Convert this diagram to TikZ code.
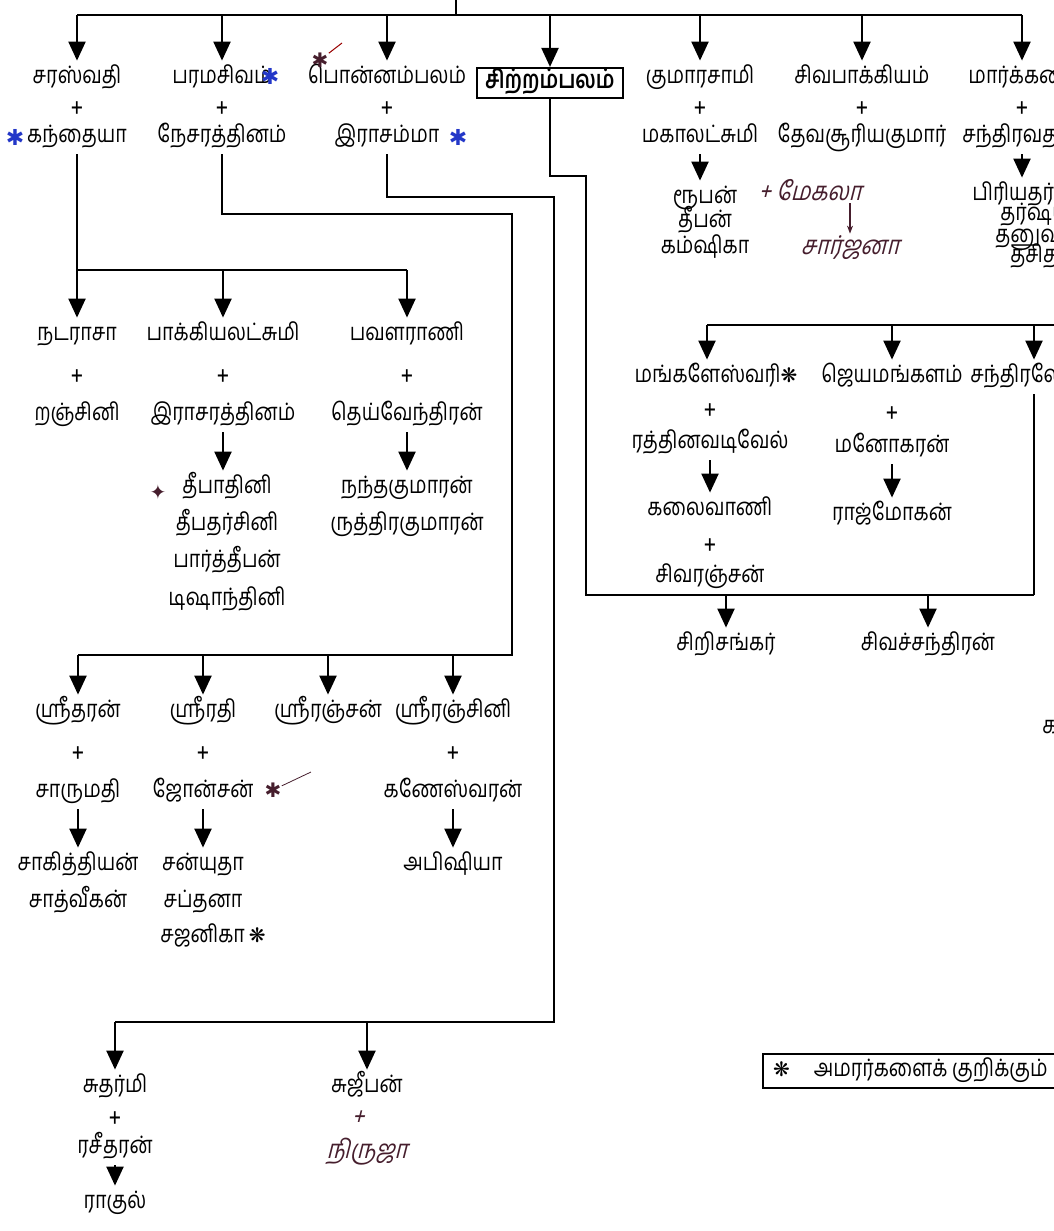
\documentclass[tikz,border=0pt]{standalone}
\usepackage{fontspec}
\setmainfont[Script=Tamil,FakeStretch=0.82]{Hind Madurai}
\newfontfamily\symfont{DejaVu Sans}
\newfontfamily\handfont[Script=Tamil,FakeSlant=0.25,FakeStretch=0.85]{Hind Madurai}
\usetikzlibrary{arrows.meta}
\definecolor{inkblue}{RGB}{35,55,200}
\definecolor{inkdark}{RGB}{70,30,45}
\newcommand{\amr}{{\symfont\fontsize{10}{12}\selectfont ❋}}
\tikzset{
  person/.style={font=\fontsize{12}{15}\selectfont, text height=8pt, text depth=3pt, inner xsep=1pt, inner ysep=3pt},
  wed/.style={font=\fontsize{14}{15}\selectfont, inner sep=0pt},
  selfbox/.style={person, draw, line width=1.1pt, font=\bfseries\fontsize{12.5}{15}\selectfont, inner ysep=2pt, inner xsep=4pt, minimum width=73pt},
  link/.style={line width=1.1pt},
  arr/.style={line width=1.1pt, -{Triangle[width=8.5pt,length=9.5pt]}},
  hand/.style={font=\handfont\fontsize{13}{14}\selectfont, text=inkdark, inner sep=1pt},
  handarr/.style={inkdark, line width=0.6pt, -{Stealth[length=4pt]}},
  starblue/.style={font=\symfont\fontsize{11}{12}\selectfont, text=inkblue, inner sep=0pt},
  stardark/.style={font=\symfont\fontsize{10}{12}\selectfont, text=inkdark, inner sep=0pt}
}
\begin{document}
\begin{tikzpicture}[x=0.5pt,y=-0.5pt]
  \useasboundingbox (0,0) rectangle (1054,1231);
  \clip (0,0) rectangle (1054,1231);

  % first generation
  \coordinate (root) at (456,0);
  \coordinate (topw) at (77,15);
  \coordinate (tope) at (1022,15);
  \node[person] (saras) at (77,78) {சரஸ்வதி};
  \node[person] (param) at (222,78) {பரமசிவம்};
  \node[person] (ponn) at (387,78) {பொன்னம்பலம்};
  \node[selfbox] (sitr) at (550,83) {சிற்றம்பலம்};
  \node[person] (kumar) at (700,78) {குமாரசாமி};
  \node[person] (sivap) at (862,78) {சிவபாக்கியம்};
  \node[person, anchor=west] (mark) at (966,78) {மார்க்கண்டு};
  \draw[link] (root) -- (root |- topw);
  \draw[link] (topw) -- (tope);
  \draw[arr] (topw) -- (saras);
  \draw[arr] (param |- topw) -- (param);
  \draw[arr] (ponn |- topw) -- (ponn);
  \draw[arr] (sitr |- topw) -- (sitr);
  \draw[arr] (kumar |- topw) -- (kumar);
  \draw[arr] (sivap |- topw) -- (sivap);
  \draw[arr] (tope) -- (tope |- mark.north);

  \node[wed] (w1) at (77,110) {+};
  \node[wed] (w2) at (222,110) {+};
  \node[wed] (w3) at (387,110) {+};
  \node[wed] (w4) at (700,110) {+};
  \node[wed] (w5) at (862,110) {+};
  \node[wed] (w6) at (1022,110) {+};
  \node[person] (kanth) at (77,137) {கந்தையா};
  \node[person] (nesa) at (222,137) {நேசரத்தினம்};
  \node[person] (rasam) at (387,137) {இராசம்மா};
  \node[person] (maha) at (700,137) {மகாலட்சுமி};
  \node[person] (deva) at (862,137) {தேவசூரியகுமார்};
  \node[person, anchor=west] (chanv) at (960,137) {சந்திரவதனா};

  % kumarasamy + markandu children
  \node[person] (ruban) at (705,198) {ரூபன்};
  \node[person] (theepan) at (705,222) {தீபன்};
  \node[person] (kams) at (705,248) {கம்ஷிகா};
  \draw[arr] (maha) -- (maha |- ruban.north);
  \node[hand] (mek) at (810,190) {+ மேகலா};
  \node[hand] (sarj) at (850,248) {சார்ஜனா};
  \draw[handarr] (mek.south -| sarj) -- (sarj);
  \node[person, anchor=west] (priya) at (970,195) {பிரியதர்ஷினி};
  \node[person, anchor=west] (thar) at (998,215) {தர்ஷயன்};
  \node[person, anchor=west] (thanu) at (993,237) {தனுஷிகா};
  \node[person, anchor=west] (thasi) at (1008,257) {தசிதரன்};
  \draw[arr] (tope |- chanv.south) -- (tope |- priya.north);

  % saraswathi branch
  \coordinate (bus2w) at (77,270);
  \coordinate (bus2e) at (407,270);
  \draw[link] (kanth) -- (bus2w) -- (bus2e);
  \node[person] (nata) at (77,335) {நடராசா};
  \node[person] (bakk) at (223,335) {பாக்கியலட்சுமி};
  \node[person] (pava) at (407,335) {பவளராணி};
  \draw[arr] (bus2w) -- (nata);
  \draw[arr] (bakk |- bus2w) -- (bakk);
  \draw[arr] (bus2e) -- (pava);
  \node[wed] (w7) at (77,378) {+};
  \node[wed] (w8) at (223,378) {+};
  \node[wed] (w9) at (407,378) {+};
  \node[person] (ranj) at (77,415) {றஞ்சினி};
  \node[person] (rasar) at (223,415) {இராசரத்தினம்};
  \node[person] (deiv) at (407,415) {தெய்வேந்திரன்};
  \node[person] (thee1) at (227,488) {தீபாதினி};
  \node[person] (thee2) at (227,525) {தீபதர்சினி};
  \node[person] (thee3) at (227,562) {பார்த்தீபன்};
  \node[person] (thee4) at (227,600) {டிஷாந்தினி};
  \draw[arr] (rasar) -- (rasar |- thee1.north);
  \node[person] (nand) at (407,488) {நந்தகுமாரன்};
  \node[person] (rudr) at (407,525) {ருத்திரகுமாரன்};
  \draw[arr] (deiv) -- (nand);

  % paramasivam branch
  \coordinate (bus3w) at (78,655);
  \coordinate (bus3e) at (512,655);
  \draw[link] (nesa) -- ++(0,77) -| (bus3e) -- (bus3w);
  \node[person] (sri1) at (78,712) {ஸ்ரீதரன்};
  \node[person] (sri2) at (203,712) {ஸ்ரீரதி};
  \node[person] (sri3) at (328,712) {ஸ்ரீரஞ்சன்};
  \node[person] (sri4) at (453,712) {ஸ்ரீரஞ்சினி};
  \draw[arr] (bus3w) -- (sri1);
  \draw[arr] (sri2 |- bus3w) -- (sri2);
  \draw[arr] (sri3 |- bus3w) -- (sri3);
  \draw[arr] (sri4 |- bus3w) -- (sri4);
  \node[wed] (w10) at (78,755) {+};
  \node[wed] (w11) at (203,755) {+};
  \node[wed] (w12) at (453,755) {+};
  \node[person] (saru) at (78,792) {சாருமதி};
  \node[person] (john) at (203,792) {ஜோன்சன்};
  \node[person] (gane) at (453,792) {கணேஸ்வரன்};
  \node[person] (saki) at (78,865) {சாகித்தியன்};
  \node[person] (sath) at (78,902) {சாத்வீகன்};
  \node[person] (sany) at (203,865) {சன்யுதா};
  \node[person] (sapt) at (203,902) {சப்தனா};
  \node[person] (saja) at (213,937) {சஜனிகா\,\amr};
  \node[person] (abis) at (453,865) {அபிஷியா};
  \draw[arr] (saru) -- (saki);
  \draw[arr] (john) -- (sany);
  \draw[arr] (gane) -- (abis);

  % ponnambalam branch
  \coordinate (bus4w) at (115,1022);
  \coordinate (bus4e) at (554,1022);
  \draw[link] (rasam) -- ++(0,60) -| (bus4e) -- (bus4w);
  \node[person] (suth) at (115,1087) {சுதர்மி};
  \node[person] (suje) at (367,1087) {சுஜீபன்};
  \draw[arr] (bus4w) -- (suth);
  \draw[arr] (suje |- bus4w) -- (suje);
  \node[wed] (w13) at (115,1120) {+};
  \node[person] (rasi) at (115,1148) {ரசீதரன்};
  \node[person] (ragul) at (115,1203) {ராகுல்};
  \draw[arr] (rasi) -- (ragul);
  \node[hand] (hplus) at (358,1118) {+};
  \node[hand] (hsuje) at (367,1152) {நிருஜா};

  % sitrambalam branch
  \coordinate (bus5w) at (586,595);
  \coordinate (bus5e) at (1034,595);
  \coordinate (bus6w) at (707,325);
  \coordinate (bus6e) at (1060,325);
  \draw[link] (sitr) -- ++(0,93) -| (bus5w) -- (bus5e);
  \draw[link] (bus6w) -- (bus6e);
  \node[person] (mang) at (716,377) {மங்களேஸ்வரி\amr};
  \node[person] (jeya) at (892,377) {ஜெயமங்களம்};
  \node[person, anchor=west] (chandra) at (968,377) {சந்திரலேகா};
  \draw[arr] (bus6w) -- (bus6w |- mang.north);
  \draw[arr] (jeya |- bus6w) -- (jeya);
  \draw[arr] (bus5e |- bus6w) -- (bus5e |- chandra.north);
  \draw[link] (bus5e |- chandra.south) -- (bus5e);
  \node[wed] (w14) at (710,412) {+};
  \node[person] (ratt) at (710,443) {ரத்தினவடிவேல்};
  \node[person] (kala) at (710,510) {கலைவாணி};
  \node[wed] (w15) at (710,547) {+};
  \node[person] (sivar) at (710,577) {சிவரஞ்சன்};
  \draw[arr] (ratt) -- (kala);
  \node[wed] (w16) at (892,415) {+};
  \node[person] (mano) at (892,447) {மனோகரன்};
  \node[person] (rajm) at (892,515) {ராஜ்மோகன்};
  \draw[arr] (mano) -- (rajm);
  \node[person] (siri) at (726,645) {சிறிசங்கர்};
  \node[person] (sivac) at (928,645) {சிவச்சந்திரன்};
  \draw[arr] (siri |- bus5w) -- (siri);
  \draw[arr] (sivac |- bus5w) -- (sivac);

  \node[person, anchor=west] (cutk) at (1040,728) {க};
  \node[person, draw, line width=1pt, anchor=west, inner xsep=5pt, inner ysep=2.8pt] (legend) at (762,1071) {\amr\quad அமரர்களைக் குறிக்கும்};

  % ink marks
  \node[starblue] (st1) at (15,137) {✱};
  \node[starblue] (st2) at (270,76) {✱};
  \node[stardark] (st3) at (320,60) {✱};
  \draw[red!60!black, line width=0.5pt] (st3) -- ++(22,-17);
  \node[starblue] (st4) at (458,137) {✱};
  \node[stardark] (st5) at (158,492) {✦};
  \node[stardark] (st6) at (273,790) {✱};
  \draw[inkdark, line width=0.4pt] (st6) -- ++(38,-18);
\end{tikzpicture}
\end{document}
